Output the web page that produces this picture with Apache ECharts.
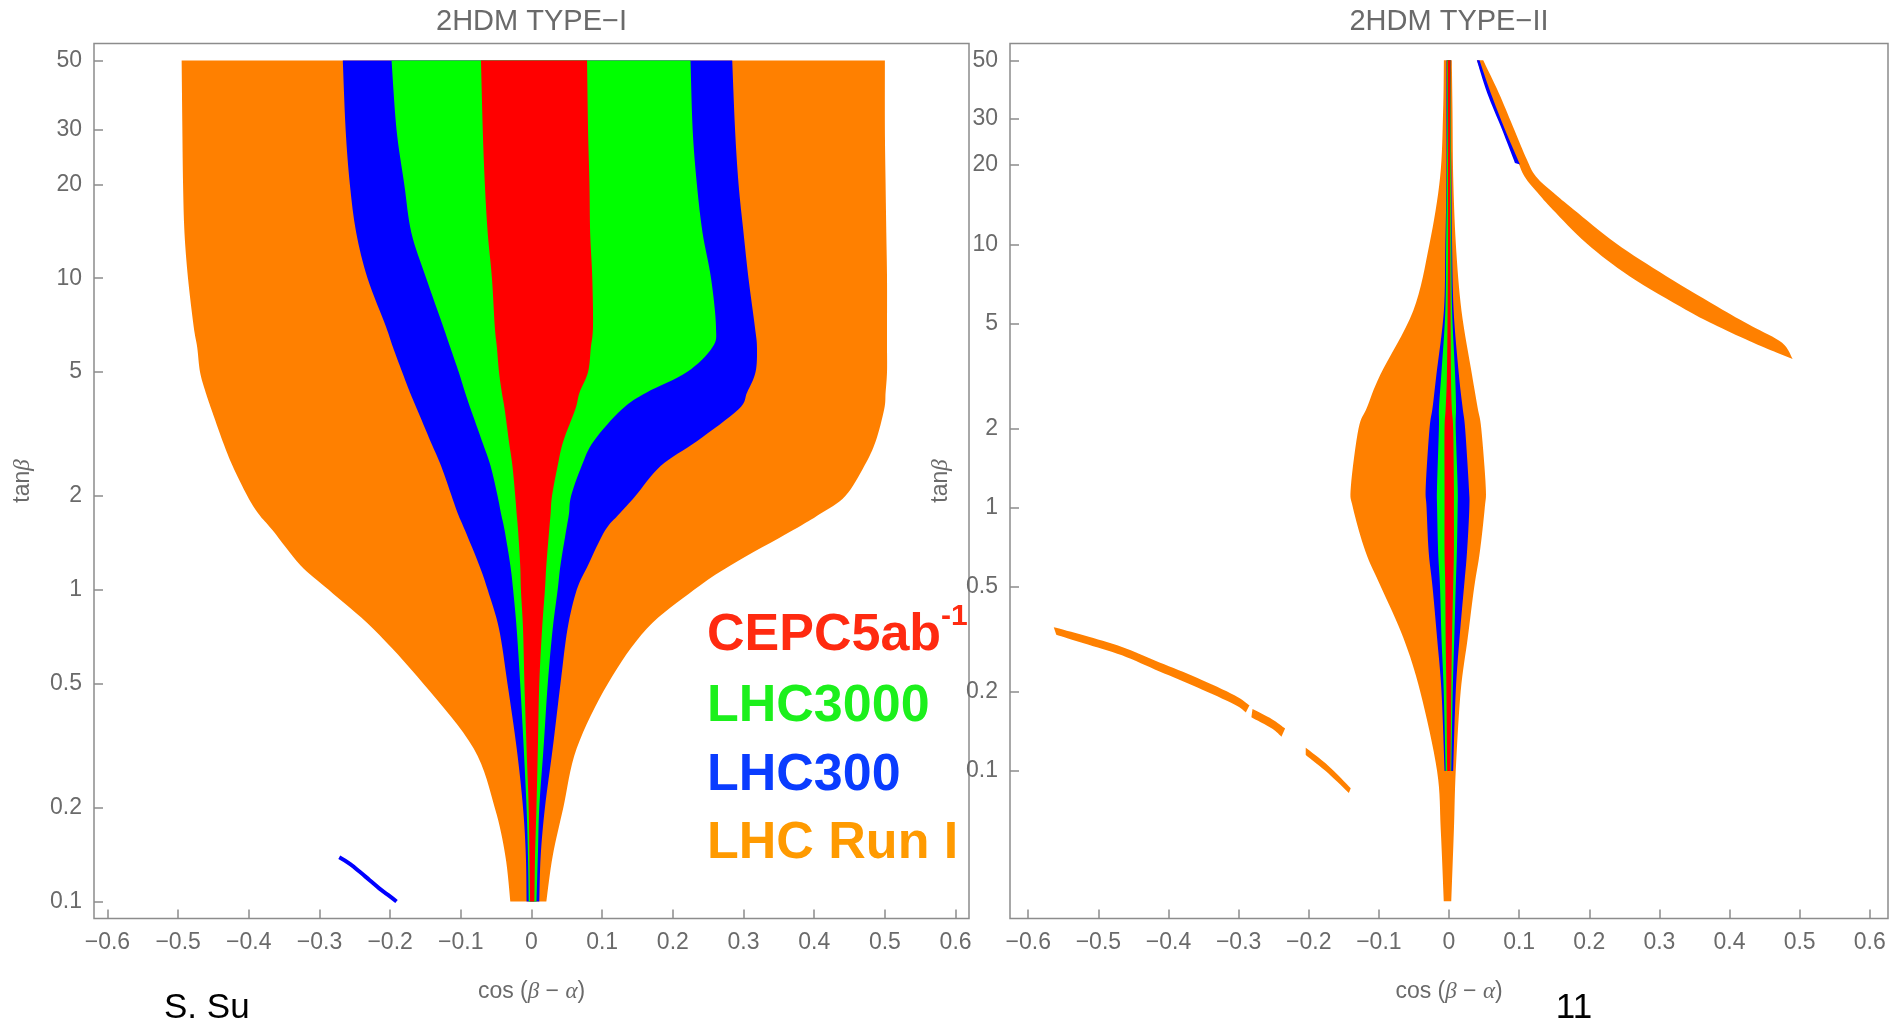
<!DOCTYPE html>
<html>
<head>
<meta charset="utf-8">
<script src="https://cdn.jsdelivr.net/npm/echarts@6/dist/echarts.min.js"></script>
<style>
  html, body { margin: 0; padding: 0; background: #fff; }
  #myChart { width: 1895px; height: 1025px; }
</style>
</head>
<body>
<div id="myChart"></div>
<script>
// tick labels
const xTicks = [-0.6, -0.5, -0.4, -0.3, -0.2, -0.1, 0, 0.1, 0.2, 0.3, 0.4, 0.5, 0.6]
const yTicks = [0.1, 0.2, 0.5, 1, 2, 5, 10, 20, 30, 50]

// 2HDM type-I : band edges in cos(b-a) at each tanb
const tanbI = [50, 30, 20, 14, 10, 7, 6, 5, 4.3, 3.8, 3, 2.5, 2, 1.75, 1.55, 1.2, 1, 0.75, 0.5, 0.31, 0.2, 0.14, 0.1]
const runI_I_lo = [-0.495, -0.494, -0.493, -0.491, -0.486, -0.478, -0.473, -0.469, -0.461, -0.453, -0.437, -0.423, -0.402, -0.386, -0.366, -0.327, -0.287, -0.224, -0.153, -0.082, -0.052, -0.037, -0.030]
const runI_I_hi = [0.500, 0.500, 0.501, 0.502, 0.503, 0.503, 0.503, 0.503, 0.501, 0.499, 0.487, 0.471, 0.444, 0.408, 0.369, 0.282, 0.230, 0.163, 0.108, 0.064, 0.045, 0.030, 0.021]
const lhc300_I_lo = [-0.267, -0.263, -0.257, -0.248, -0.232, -0.206, -0.196, -0.183, -0.172, -0.162, -0.143, -0.128, -0.113, -0.104, -0.094, -0.074, -0.062, -0.046, -0.034, -0.021, -0.012, -0.008, -0.007]
const lhc300_I_hi = [0.284, 0.288, 0.293, 0.300, 0.307, 0.316, 0.319, 0.317, 0.305, 0.293, 0.234, 0.183, 0.147, 0.124, 0.104, 0.080, 0.064, 0.051, 0.041, 0.030, 0.019, 0.013, 0.011]
const lhc3000_I_lo = [-0.198, -0.191, -0.180, -0.170, -0.149, -0.125, -0.115, -0.103, -0.094, -0.086, -0.070, -0.058, -0.048, -0.043, -0.038, -0.030, -0.026, -0.021, -0.016, -0.011, -0.007, -0.005, -0.004]
const lhc3000_I_hi = [0.225, 0.228, 0.234, 0.242, 0.254, 0.261, 0.256, 0.220, 0.163, 0.128, 0.088, 0.071, 0.056, 0.053, 0.049, 0.041, 0.037, 0.030, 0.023, 0.017, 0.011, 0.009, 0.007]
const cepc_I_lo = [-0.0715, -0.069, -0.066, -0.062, -0.056, -0.052, -0.049, -0.046, -0.042, -0.038, -0.032, -0.027, -0.023, -0.021, -0.019, -0.016, -0.015, -0.012, -0.010, -0.007, -0.004, -0.003, -0.002]
const cepc_I_hi = [0.0786, 0.080, 0.082, 0.083, 0.086, 0.087, 0.084, 0.080, 0.068, 0.062, 0.045, 0.037, 0.029, 0.027, 0.025, 0.021, 0.019, 0.015, 0.011, 0.009, 0.007, 0.005, 0.004]
// small LHC300 island, type-I
const islandX = [-0.272, -0.257, -0.243, -0.229, -0.215, -0.203, -0.191]
const islandT = [0.1386, 0.132, 0.1245, 0.117, 0.110, 0.105, 0.1]

// 2HDM type-II : central funnel
const tanbII = [50, 32, 18, 10, 5.6, 3.2, 2.4, 2, 1.2, 1, 0.68, 0.5, 0.32, 0.2, 0.1, 0.06, 0.032]
const runI_II_lo = [-0.0073, -0.0084, -0.0127, -0.028, -0.051, -0.098, -0.117, -0.129, -0.140, -0.137, -0.119, -0.097, -0.065, -0.041, -0.017, -0.0118, -0.0075]
const runI_II_hi = [0.004, 0.005, 0.006, 0.0098, 0.0178, 0.0328, 0.0408, 0.046, 0.0524, 0.051, 0.044, 0.036, 0.0267, 0.0166, 0.0096, 0.007, 0.0032]
const tanbII_in = [50, 32, 18, 10, 5.6, 3.2, 2.4, 2, 1.2, 1, 0.68, 0.5, 0.32, 0.2, 0.1]
const lhc300_II_lo = [-0.0035, -0.0036, -0.0036, -0.0052, -0.0073, -0.018, -0.0234, -0.0278, -0.0332, -0.032, -0.029, -0.0235, -0.017, -0.0107, -0.0064]
const lhc300_II_hi = [0.003, 0.0023, 0.0034, 0.0044, 0.0066, 0.0141, 0.0194, 0.023, 0.0283, 0.029, 0.0257, 0.0214, 0.015, 0.0096, 0.0059]
const lhc3000_II_lo = [-0.003, -0.0025, -0.003, -0.0041, -0.0052, -0.011, -0.0143, -0.0144, -0.0171, -0.017, -0.0155, -0.0128, -0.0107, -0.0075, -0.0048]
const lhc3000_II_hi = [0.0025, 0.0023, 0.0028, 0.0034, 0.0044, 0.0087, 0.010, 0.0096, 0.0123, 0.0123, 0.0112, 0.0096, 0.0075, 0.0053, 0.0032]
const cepc_II_lo = [-0.002, -0.0014, -0.0014, -0.0014, -0.002, -0.003, -0.0047, -0.0064, -0.0064, -0.0064, -0.0064, -0.0053, -0.0048, -0.0037, -0.0027]
const cepc_II_hi = [0.0023, 0.0018, 0.0018, 0.0018, 0.0023, 0.0028, 0.0039, 0.0059, 0.007, 0.007, 0.007, 0.0059, 0.0043, 0.0032, 0.0021]
// wrong-sign arm, upper right
const armOuterX = [0.0488, 0.071, 0.091, 0.111, 0.124, 0.149, 0.178, 0.238, 0.310, 0.390, 0.432, 0.475, 0.490]
const armOuterT = [50, 37.6, 28.1, 21, 18.1, 15.7, 13.55, 10.1, 7.57, 5.65, 4.89, 4.23, 3.67]
const armInnerX = [0.0397, 0.0568, 0.0756, 0.097, 0.1077, 0.1264, 0.148, 0.196, 0.2574, 0.3376, 0.383, 0.434, 0.4686]
const armInnerT = [50, 37.6, 28.1, 21, 18.1, 15.7, 13.55, 10.1, 7.57, 5.65, 4.89, 4.23, 3.87]
const armBlueInX = [0.0397, 0.0544, 0.0756, 0.094]
const armBlueInT = [50, 37.6, 27.3, 20.4]
const armBlueOutX = [0.0435, 0.0595, 0.0798, 0.1012]
const armBlueOutT = [50, 37.6, 27.3, 20.1]
// wrong-sign arm, lower left (three pieces)
const low1UpX = [-0.5636, -0.5198, -0.4663, -0.4128, -0.3594, -0.3059, -0.2845]
const low1UpT = [0.352, 0.327, 0.296, 0.2586, 0.226, 0.194, 0.1776]
const low1DnX = [-0.56, -0.5198, -0.4663, -0.4128, -0.3594, -0.3059, -0.2898]
const low1DnT = [0.329, 0.305, 0.275, 0.239, 0.208, 0.179, 0.167]
const low2UpX = [-0.2802, -0.2524, -0.2337]
const low2UpT = [0.172, 0.1574, 0.145]
const low2DnX = [-0.2818, -0.2524, -0.239]
const low2DnT = [0.160, 0.145, 0.135]
const low3UpX = [-0.2043, -0.1722, -0.1401]
const low3UpT = [0.1226, 0.1048, 0.0861]
const low3DnX = [-0.2043, -0.1722, -0.1428]
const low3DnT = [0.115, 0.098, 0.0825]

const ORANGE = '#ff8000'
const BLUE = '#0000ff'
const GREEN = '#00ff00'
const RED = '#ff0000'

function pairs (xs, ts) {
  return xs.map((x, i) => [x, ts[i]])
}

// catmull-rom through the pixel points, so edges look like contours and not zigzags
function curve (p, steps) {
  if (p.length < 3) return p.slice()
  let out = [p[0]]
  for (let i = 0; i < p.length - 1; i++) {
    let p0 = p[Math.max(i - 1, 0)]
    let p1 = p[i]
    let p2 = p[i + 1]
    let p3 = p[Math.min(i + 2, p.length - 1)]
    let c1 = [p1[0] + (p2[0] - p0[0]) / 6, p1[1] + (p2[1] - p0[1]) / 6]
    let c2 = [p2[0] - (p3[0] - p1[0]) / 6, p2[1] - (p3[1] - p1[1]) / 6]
    for (let s = 1; s <= steps; s++) {
      let u = s / steps
      let a = (1 - u) * (1 - u) * (1 - u)
      let b = 3 * (1 - u) * (1 - u) * u
      let c = 3 * (1 - u) * u * u
      let d = u * u * u
      out.push([a * p1[0] + b * c1[0] + c * c2[0] + d * p2[0], a * p1[1] + b * c1[1] + c * c2[1] + d * p2[1]])
    }
  }
  return out
}

// filled region between two edges (each a list of [cos, tanb])
function area (edgeA, edgeB, color, gi) {
  return {
    type: 'custom',
    xAxisIndex: gi,
    yAxisIndex: gi,
    silent: true,
    clip: true,
    data: [[0, 0]],
    renderItem: function (params, api) {
      let a = curve(edgeA.map(p => api.coord([p[0], Math.log10(p[1])])), 8)
      let b = curve(edgeB.map(p => api.coord([p[0], Math.log10(p[1])])), 8)
      return {
        type: 'polygon',
        shape: { points: a.concat(b.reverse()) },
        style: { fill: color }
      }
    }
  }
}

const grey = '#6a6a6a'
const frame = '#8c8c8c'

function xAxisOf (gi, lim) {
  return {
    gridIndex: gi,
    type: 'value',
    min: -lim,
    max: lim,
    name: 'cos ({i|β} − {i|α})',
    nameLocation: 'middle',
    nameGap: 62,
    nameTextStyle: {
      color: grey, fontSize: 23, fontFamily: 'Liberation Sans',
      rich: { i: { fontStyle: 'italic', fontSize: 23, color: grey, fontFamily: 'Liberation Serif' } }
    },
    axisLine: { show: false, onZero: false },
    splitLine: { show: false },
    axisTick: { inside: true, length: 9, lineStyle: { color: frame, width: 1.5 }, customValues: xTicks },
    axisLabel: {
      customValues: xTicks,
      margin: 13,
      color: grey,
      fontSize: 23,
      fontFamily: 'Liberation Sans',
      formatter: v => (Math.abs(v) < 1e-9 ? '0' : (v < 0 ? '\u2212' : '') + Math.abs(v).toFixed(1))
    }
  }
}

function yAxisOf (gi, lo, hi, gap) {
  const vals = yTicks.map(t => Math.log10(t))
  return {
    gridIndex: gi,
    type: 'value',
    min: lo,
    max: hi,
    name: 'tan{i|β}',
    nameLocation: 'middle',
    nameRotate: 90,
    nameGap: gap,
    nameTextStyle: {
      color: grey, fontSize: 23, fontFamily: 'Liberation Sans',
      rich: { i: { fontStyle: 'italic', fontSize: 23, color: grey, fontFamily: 'Liberation Serif' } }
    },
    axisLine: { show: false, onZero: false },
    splitLine: { show: false },
    axisTick: { inside: true, length: 9, lineStyle: { color: frame, width: 1.5 }, customValues: vals },
    axisLabel: {
      customValues: vals,
      margin: 12,
      color: grey,
      fontSize: 23,
      fontFamily: 'Liberation Sans',
      formatter: v => String(+Math.pow(10, v).toPrecision(2))
    }
  }
}

let myChart = echarts.init(document.getElementById('myChart'), null, { renderer: 'canvas' })

let series = [
  area(pairs(runI_I_lo, tanbI), pairs(runI_I_hi, tanbI), ORANGE, 0),
  area(pairs(lhc300_I_lo, tanbI), pairs(lhc300_I_hi, tanbI), BLUE, 0),
  area(pairs(lhc3000_I_lo, tanbI), pairs(lhc3000_I_hi, tanbI), GREEN, 0),
  area(pairs(cepc_I_lo, tanbI), pairs(cepc_I_hi, tanbI), RED, 0),
  {
    type: 'line',
    xAxisIndex: 0,
    yAxisIndex: 0,
    silent: true,
    showSymbol: false,
    smooth: true,
    lineStyle: { color: BLUE, width: 4 },
    data: islandX.map((x, i) => [x, Math.log10(islandT[i])])
  },
  area(pairs(runI_II_lo, tanbII), pairs(runI_II_hi, tanbII), ORANGE, 1),
  area(pairs(lhc300_II_lo, tanbII_in), pairs(lhc300_II_hi, tanbII_in), BLUE, 1),
  area(pairs(lhc3000_II_lo, tanbII_in), pairs(lhc3000_II_hi, tanbII_in), GREEN, 1),
  area(pairs(cepc_II_lo, tanbII_in), pairs(cepc_II_hi, tanbII_in), RED, 1),
  area(pairs(armOuterX, armOuterT), pairs(armInnerX, armInnerT), ORANGE, 1),
  area(pairs(armBlueOutX, armBlueOutT), pairs(armBlueInX, armBlueInT), BLUE, 1),
  area(pairs(low1UpX, low1UpT), pairs(low1DnX, low1DnT), ORANGE, 1),
  area(pairs(low2UpX, low2UpT), pairs(low2DnX, low2DnT), ORANGE, 1),
  area(pairs(low3UpX, low3UpT), pairs(low3DnX, low3DnT), ORANGE, 1)
]

myChart.setOption({
  backgroundColor: '#ffffff',
  animation: false,
  grid: [
    { left: 94, top: 43.5, width: 875, height: 875, show: true, borderColor: frame, borderWidth: 1.5, backgroundColor: 'transparent' },
    { left: 1010, top: 43.5, width: 878, height: 875, show: true, borderColor: frame, borderWidth: 1.5, backgroundColor: 'transparent' }
  ],
  xAxis: [xAxisOf(0, 0.619), xAxisOf(1, 0.626)],
  yAxis: [yAxisOf(0, -1.0546, 1.7532, 60), yAxisOf(1, -1.560, 1.763, 58)],
  series: series,
  graphic: [
    { type: 'text', x: 531.5, y: 22, style: { text: '2HDM TYPE\u2212I', fill: grey, font: '29px "Liberation Sans"', align: 'center', verticalAlign: 'middle' } },
    { type: 'text', x: 1449, y: 22, style: { text: '2HDM TYPE\u2212II', fill: grey, font: '29px "Liberation Sans"', align: 'center', verticalAlign: 'middle' } },
    { type: 'text', x: 164, y: 1008, style: { text: 'S. Su', fill: '#000', font: '35px "Liberation Sans"', align: 'left', verticalAlign: 'middle' } },
    { type: 'text', x: 1574, y: 1008, style: { text: '11', fill: '#000', font: '35px "Liberation Sans"', align: 'center', verticalAlign: 'middle' } },
    { type: 'text', x: 707, y: 636, style: { text: 'CEPC5ab', fill: '#ff2a10', font: 'bold 52px "Liberation Sans"', align: 'left', verticalAlign: 'middle' } },
    { type: 'text', x: 941, y: 617, style: { text: '-1', fill: '#ff2a10', font: 'bold 30px "Liberation Sans"', align: 'left', verticalAlign: 'middle' } },
    { type: 'text', x: 707, y: 707, style: { text: 'LHC3000', fill: '#1cf01c', font: 'bold 52px "Liberation Sans"', align: 'left', verticalAlign: 'middle' } },
    { type: 'text', x: 707, y: 776, style: { text: 'LHC300', fill: '#0a3cff', font: 'bold 52px "Liberation Sans"', align: 'left', verticalAlign: 'middle' } },
    { type: 'text', x: 707, y: 844, style: { text: 'LHC Run I', fill: '#ff9a00', font: 'bold 52px "Liberation Sans"', align: 'left', verticalAlign: 'middle' } }
  ]
})
</script>
</body>
</html>
